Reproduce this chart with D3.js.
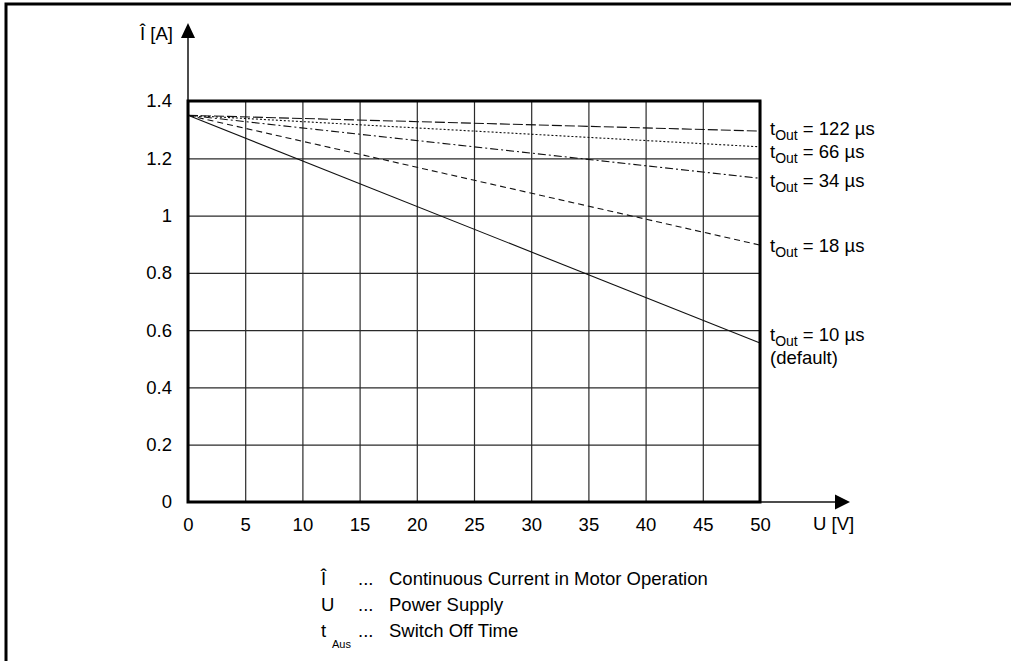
<!DOCTYPE html>
<html>
<head>
<meta charset="utf-8">
<script src="https://cdn.jsdelivr.net/npm/d3@7"></script>
<style>
  body { margin: 0; background: #fff; }
  text { font-family: "Liberation Sans", Arial, sans-serif; fill: #000; }
</style>
</head>
<body>
<svg id="chart" width="1011" height="661"></svg>
<script>
// values
var voltage = [0, 50];
var seriesNames = ["122", "66", "34", "18", "10"];
var startCurrent = [1.35, 1.35, 1.35, 1.35, 1.35];
var endCurrent = [1.295, 1.24, 1.13, 0.897, 0.555];
var xTicks = [0, 5, 10, 15, 20, 25, 30, 35, 40, 45, 50];
var yTicks = [0, 0.2, 0.4, 0.6, 0.8, 1, 1.2, 1.4];
var legendSymbols = ["Î", "U", "t"];
var legendTexts = ["Continuous Current in Motor Operation", "Power Supply", "Switch Off Time"];

var svg = d3.select("#chart");

var x = d3.scaleLinear().domain([0, 50]).range([188, 760]);
var y = d3.scaleLinear().domain([0, 1.4]).range([502, 101]);

// outer frame
svg.append("path")
  .attr("d", "M6,661V4H1011")
  .attr("fill", "none")
  .attr("stroke", "#000")
  .attr("stroke-width", 3);

// grid
svg.append("g")
  .attr("transform", "translate(0,502)")
  .call(d3.axisBottom(x).tickValues(xTicks).tickSize(-401).tickFormat(""))
  .call(function (g) { g.select(".domain").remove(); })
  .selectAll("line").attr("stroke", "#2a2a2a").attr("stroke-width", 1.2);

svg.append("g")
  .attr("transform", "translate(188,0)")
  .call(d3.axisLeft(y).tickValues(yTicks).tickSize(-572).tickFormat(""))
  .call(function (g) { g.select(".domain").remove(); })
  .selectAll("line").attr("stroke", "#2a2a2a").attr("stroke-width", 1.2);

// tick labels
var xAxis = svg.append("g")
  .attr("transform", "translate(0,502)")
  .call(d3.axisBottom(x).tickValues(xTicks).tickSize(0).tickPadding(16).tickFormat(d3.format("d")));
xAxis.select(".domain").remove();
xAxis.selectAll("text").style("font-size", "18.5px").attr("font-family", null);

var yAxis = svg.append("g")
  .attr("transform", "translate(188,0)")
  .call(d3.axisLeft(y).tickValues(yTicks).tickSize(0).tickPadding(16).tickFormat(d3.format("~g")));
yAxis.select(".domain").remove();
yAxis.selectAll("text").style("font-size", "18.5px").attr("font-family", null);

// axis arrows
svg.append("line").attr("x1", 188).attr("x2", 188).attr("y1", 36).attr("y2", 101)
  .attr("stroke", "#111").attr("stroke-width", 1.5);
svg.append("path").attr("d", "M188,23L181,38H195Z").attr("fill", "#000");
svg.append("line").attr("x1", 760).attr("x2", 837).attr("y1", 502).attr("y2", 502)
  .attr("stroke", "#111").attr("stroke-width", 1.5);
svg.append("path").attr("d", "M850,502L835,494.5V509.5Z").attr("fill", "#000");

svg.append("text").attr("x", 173).attr("y", 40).attr("text-anchor", "end")
  .style("font-size", "18.5px").text("Î [A]");
svg.append("text").attr("x", 813).attr("y", 530)
  .style("font-size", "18.5px").text("U [V]");

// curves
var dashes = ["10,3", "2,2", "8,3,2,3", "6,4", null];
var line = d3.line().x(function (d) { return x(d[0]); }).y(function (d) { return y(d[1]); });

seriesNames.forEach(function (name, i) {
  svg.append("path")
    .datum([[voltage[0], startCurrent[i]], [voltage[1], endCurrent[i]]])
    .attr("d", line)
    .attr("fill", "none")
    .attr("stroke", "#111")
    .attr("stroke-width", 1.1)
    .attr("stroke-dasharray", dashes[i]);
});

// plot frame
svg.append("rect")
  .attr("x", x(0)).attr("y", y(1.4))
  .attr("width", x(50) - x(0)).attr("height", y(0) - y(1.4))
  .attr("fill", "none").attr("stroke", "#000").attr("stroke-width", 3);

// series labels
var labelShift = [4, 11, 9, 7, -2];
seriesNames.forEach(function (name, i) {
  var t = svg.append("text")
    .attr("x", 770)
    .attr("y", y(endCurrent[i]) + labelShift[i])
    .style("font-size", "18.5px");
  t.append("tspan").text("t");
  t.append("tspan").attr("dy", 5).style("font-size", "14px").text("Out");
  t.append("tspan").attr("dy", -5).text(" = " + name + " µs");
});
svg.append("text").attr("x", 770).attr("y", y(endCurrent[4]) + 21)
  .style("font-size", "18.5px").text("(default)");

// legend
legendSymbols.forEach(function (s, i) {
  var by = 585 + i * 26;
  svg.append("text").attr("x", 321).attr("y", by).style("font-size", "18.5px").text(s);
  if (s === "t") {
    svg.append("text").attr("x", 332).attr("y", by + 11).style("font-size", "11px").text("Aus");
  }
  svg.append("text").attr("x", 358).attr("y", by).style("font-size", "18.5px").text("...");
  svg.append("text").attr("x", 389).attr("y", by).style("font-size", "18.5px").text(legendTexts[i]);
});
</script>
</body>
</html>
